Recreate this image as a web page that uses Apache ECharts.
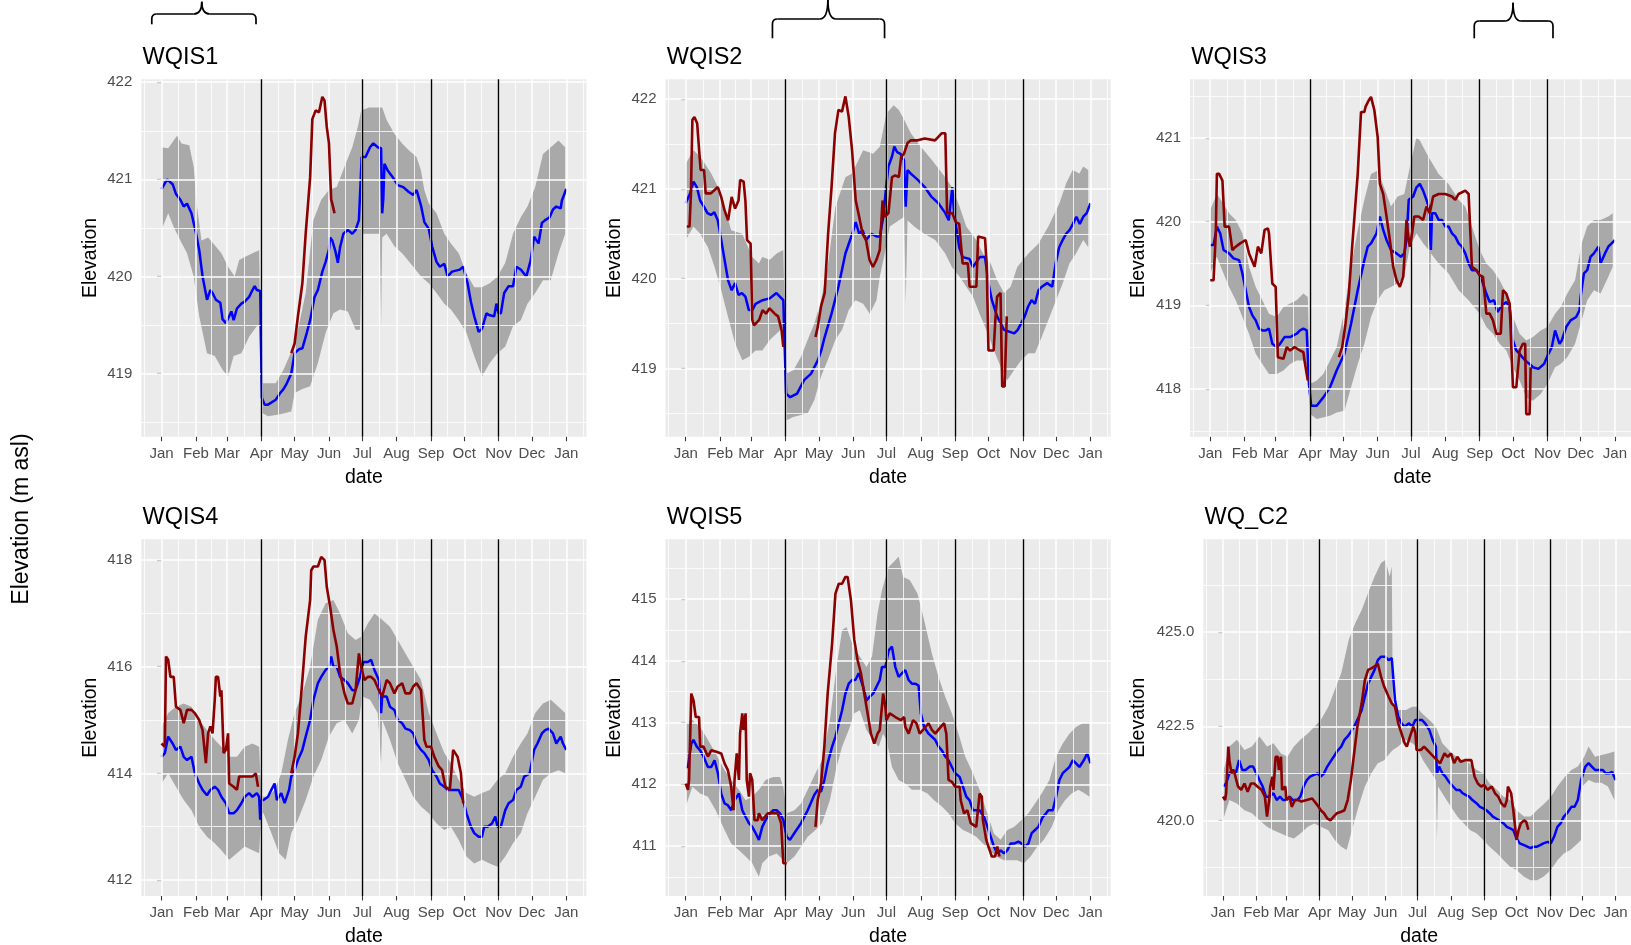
<!DOCTYPE html>
<html><head><meta charset="utf-8">
<script src="https://cdn.jsdelivr.net/npm/echarts@6/dist/echarts.min.js"></script>
<style>html,body{margin:0;padding:0;background:#fff}#c{width:1631px;height:945px}</style>
</head><body><div id="c"></div>
<script>
// ---------- axis breaks / labels ----------
const monthStarts = [0,31,59,90,120,151,181,212,243,273,304,334,365];
const monthLabels = ['Jan','Feb','Mar','Apr','May','Jun','Jul','Aug','Sep','Oct','Nov','Dec','Jan'];
const monthMids = [-15.5,15.5,45,74.5,105,135.5,166,196.5,227.5,258,288.5,319,349.5,380.5];
const seasonLines = [90,181,243,304];
const panelNames = ['WQIS1','WQIS2','WQIS3','WQIS4','WQIS5','WQ_C2'];
const yMajor1 = [419,420,421,422], yMinor1 = [418.5,419.5,420.5,421.5];
const yMajor2 = [419,420,421,422], yMinor2 = [418.5,419.5,420.5,421.5];
const yMajor3 = [418,419,420,421], yMinor3 = [417.5,418.5,419.5,420.5,421.5];
const yMajor4 = [412,414,416,418], yMinor4 = [413,415,417];
const yMajor5 = [411,412,413,414,415], yMinor5 = [410.5,411.5,412.5,413.5,414.5,415.5];
const yMajor6 = [420,422.5,425], yMinor6 = [418.75,421.25,423.75,426.25];

// ---------- WQIS1 ----------
const rib1Hi = [[0,421.33],[6,421.32],[14,421.45],[18,421.37],[25,421.35],[29,421.13],[32,420.72],[36,420.37],[42,420.40],[48,420.32],[54,420.24],[60,420.10],[66,420.00],[70,420.17],[75,420.20],[82,420.24],[88,420.27],[90,418.90],[103,418.90],[110,419.04],[118,419.25],[123,419.45],[130,419.83],[137,420.58],[144,420.79],[151,420.89],[158,420.92],[165,421.13],[172,421.33],[177,421.54],[180,421.71],[187,421.74],[194,421.74],[199,421.74],[203,421.61],[210,421.47],[217,421.37],[223,421.30],[230,421.23],[234,421.09],[237,420.89],[241,420.75],[248,420.65],[255,420.44],[261,420.34],[268,420.24],[275,420.03],[282,419.89],[289,419.89],[296,419.93],[303,420.00],[310,420.14],[317,420.44],[324,420.61],[330,420.72],[337,420.92],[344,421.26],[351,421.33],[358,421.40],[364,421.33]];
const rib1Lo = [[0,420.48],[6,420.65],[11,420.51],[17,420.37],[23,420.24],[29,420.00],[34,419.59],[41,419.21],[48,419.18],[55,419.04],[60,418.97],[65,419.18],[72,419.21],[79,419.38],[86,419.49],[88,419.50],[90,418.60],[96,418.56],[107,418.58],[117,418.61],[120,418.80],[127,418.84],[134,418.87],[141,419.11],[148,419.42],[155,419.62],[161,419.66],[168,419.64],[175,419.45],[179,419.45],[181,420.44],[188,420.44],[197,420.44],[198,419.49],[199,420.40],[203,420.44],[210,420.31],[217,420.24],[227,420.10],[234,420.00],[241,419.93],[248,419.83],[255,419.72],[261,419.66],[268,419.55],[275,419.42],[282,419.18],[289,418.97],[296,419.11],[303,419.21],[310,419.28],[317,419.49],[324,419.55],[330,419.72],[337,419.83],[344,419.96],[351,419.96],[358,420.24],[364,420.44]];
const blue1 = [[0,420.90],[5,421.00],[10,420.95],[13,420.85],[17,420.79],[20,420.72],[23,420.75],[27,420.65],[31,420.45],[34,420.27],[37,420.00],[41,419.76],[44,419.86],[46,419.83],[49,419.76],[53,419.73],[55,419.56],[58,419.52],[61,419.59],[63,419.64],[65,419.55],[68,419.67],[72,419.72],[75,419.74],[79,419.79],[82,419.86],[84,419.90],[86,419.86],[89,419.85],[90.5,418.75],[93,418.68],[96,418.68],[103,418.73],[107,418.80],[110,418.84],[113,418.90],[117,419.00],[120,419.21],[124,419.25],[127,419.26],[131,419.42],[134,419.55],[138,419.79],[141,419.86],[145,420.05],[148,420.15],[151,420.28],[152,420.40],[154,420.37],[157,420.25],[159,420.14],[161,420.30],[164,420.44],[168,420.48],[172,420.44],[175,420.48],[178,420.58],[180.5,421.23],[184,421.23],[188,421.33],[191,421.37],[195,421.33],[198,421.32],[199,420.65],[200,420.80],[201,421.16],[204,421.09],[208,421.03],[213,420.94],[218,420.92],[223,420.87],[227,420.84],[230,420.89],[234,420.73],[237,420.56],[241,420.49],[244,420.31],[248,420.15],[251,420.10],[255,420.13],[258,420.00],[262,420.05],[269,420.07],[272,420.10],[276,419.93],[279,419.74],[282,419.59],[286,419.43],[289,419.46],[293,419.62],[296,419.60],[300,419.59],[302,419.72],[304,419.62],[306,419.62],[309,419.83],[313,419.90],[317,419.90],[320,420.10],[324,420.07],[329,420.00],[333,420.17],[336,420.41],[340,420.34],[343,420.55],[346,420.58],[350,420.61],[353,420.69],[356,420.72],[360,420.70],[361,420.78],[365,420.90]];
const red1 = [[117,419.21],[120,419.31],[123,419.59],[127,419.93],[130,420.44],[134,421.02],[136,421.62],[139,421.71],[142,421.69],[145,421.85],[147,421.81],[149,421.54],[151,421.37],[153,420.79],[154,420.75],[156,420.65]];

// ---------- WQIS2 ----------
const rib2Hi = [[0,421.28],[7,421.43],[13,421.36],[23,421.17],[29,421.02],[35,420.80],[41,420.54],[51,420.50],[60,420.24],[66,420.17],[69,420.24],[76,420.21],[82,420.28],[88,420.32],[90.5,418.94],[97,418.98],[104,419.13],[110,419.32],[116,419.50],[122,419.76],[128,420.13],[135,420.80],[141,421.02],[144,421.13],[150,421.17],[160,421.43],[169,421.39],[175,421.47],[181,421.84],[187.5,421.93],[192,421.88],[197,421.77],[203,421.62],[212,421.47],[222,421.32],[234,421.13],[240,421.02],[247,420.80],[253,420.58],[262,420.43],[268,420.28],[275,420.17],[281,419.98],[287,419.84],[293,419.91],[299,420.13],[309,420.28],[318,420.39],[327,420.58],[337,420.84],[343,421.06],[349,421.21],[355,421.17],[358.5,421.25],[363,421.21]];
const rib2Lo = [[0,420.43],[7,420.58],[13,420.50],[20,420.35],[26,420.13],[32,419.87],[38,419.58],[44.5,419.28],[51,419.09],[57,419.13],[63,419.20],[69,419.20],[76,419.32],[82,419.39],[88,419.46],[90.5,418.42],[97,418.46],[110,418.50],[116,418.65],[122,418.91],[128,419.09],[135,419.32],[141,419.43],[147,419.65],[153,419.76],[160,419.72],[166,419.61],[172,419.76],[175,420.02],[179.5,420.28],[184,420.58],[197,420.69],[198.4,419.72],[200,420.65],[206,420.58],[215,420.50],[225,420.43],[234,420.28],[240,420.13],[247,420.02],[253,419.91],[259,419.80],[265,419.61],[271,419.43],[278,419.20],[284,419.02],[290,418.87],[296,418.98],[302.5,419.09],[309,419.17],[315,419.17],[321,419.35],[327,419.54],[334,419.76],[340,419.95],[346,420.17],[352,420.28],[358.5,420.43],[363,420.35]];
const blue2 = [[0,420.84],[4,420.95],[7,421.08],[10,421.02],[13,420.87],[16.5,420.80],[19.6,420.73],[22.7,420.71],[25.8,420.74],[28.9,420.65],[32,420.43],[35,420.21],[38.2,419.98],[41.4,419.87],[44.5,419.95],[47.6,419.82],[50.7,419.84],[53.8,419.80],[56.9,419.65],[60,419.65],[63,419.72],[69.3,419.76],[75.6,419.78],[81.8,419.84],[84.9,419.80],[88,419.76],[90.5,418.72],[94.2,418.68],[100.4,418.72],[106.7,418.87],[112.9,418.94],[119.1,419.09],[122.2,419.20],[125.3,419.35],[131.5,419.61],[137.7,419.91],[144,420.28],[150.2,420.50],[153.3,420.63],[156.4,420.50],[159.5,420.54],[162.6,420.43],[167.3,420.50],[172,420.47],[175,420.47],[178.2,420.69],[180.7,421.02],[182.8,421.25],[186,421.36],[188.1,421.47],[190.6,421.41],[193.7,421.39],[196.8,421.32],[198.4,420.80],[200,421.21],[203,421.17],[209.3,421.10],[215.5,421.02],[221.7,420.91],[227.9,420.84],[234.1,420.73],[237.2,420.65],[240.4,421.02],[242,420.73],[243.5,420.61],[246.6,420.35],[249.7,420.24],[255.9,420.22],[259,420.13],[265.2,420.24],[269.9,420.24],[273,419.95],[276.1,419.76],[280.8,419.58],[287,419.43],[291.7,419.41],[296.3,419.39],[299.4,419.43],[305.7,419.58],[308.8,419.69],[311.9,419.76],[315,419.72],[318.1,419.87],[321.2,419.91],[325.9,419.95],[330.5,419.91],[333.6,420.17],[336.8,420.35],[339.9,420.43],[343,420.50],[346.1,420.54],[349.2,420.61],[352.3,420.69],[355.4,420.61],[358.5,420.69],[361.6,420.73],[365,420.84]];
const red2 = [[1,420.58],[3.4,420.58],[4.7,420.95],[6,421.77],[7.8,421.80],[10.3,421.73],[11.8,421.75],[13.4,421.21],[16.5,421.21],[18,420.95],[22.7,420.95],[28.9,421.02],[32,420.91],[35,420.76],[38.2,420.65],[41.4,420.91],[44.5,420.78],[47.6,420.87],[49.1,421.10],[52.2,421.08],[53.8,420.87],[55.3,420.43],[58.5,420.39],[60,419.54],[61.6,419.48],[66.2,419.54],[69.3,419.65],[72.4,419.61],[75.6,419.67],[80.2,419.61],[83.3,419.58],[86.4,419.43],[88,419.24],null,[117,419.35],[119,419.46],[122,419.69],[125.3,419.84],[128.4,420.50],[131.5,421.02],[134.6,421.62],[137.7,421.88],[140.9,421.86],[144,422.03],[147,421.80],[150,421.43],[153.3,420.87],[156.4,420.69],[159.5,420.50],[162.6,420.43],[165.7,420.21],[168.8,420.13],[172,420.21],[175,420.32],[177.5,420.87],[179.7,420.69],[182.8,420.73],[186,421.13],[189,421.15],[192.2,421.13],[194.3,421.36],[196.8,421.39],[200,421.51],[203,421.54],[209.3,421.54],[215.5,421.56],[224.8,421.54],[231,421.62],[234.1,421.62],[235.7,420.73],[240.4,420.73],[243.5,420.63],[246.6,420.61],[249.7,420.17],[254.4,420.17],[256,419.91],[262.1,419.91],[263.7,420.47],[269.9,420.45],[271.5,420.13],[273,419.20],[277.7,419.20],[279.2,419.54],[280.8,419.80],[283.9,419.84],[285.4,418.80],[287.6,418.80],[289.5,419.58]];

// ---------- WQIS3 ----------
const rib3Hi = [[0,420.14],[6,420.33],[12,420.21],[17,420.10],[23,420.02],[29,419.86],[35,419.46],[41,419.22],[47,419.06],[53,418.90],[60,418.86],[66,418.98],[72,419.02],[78,419.06],[84,419.14],[88,419.10],[90,418.06],[96,418.10],[102,418.18],[108,418.34],[114,418.50],[121,418.94],[127,419.46],[133,419.90],[139,420.26],[145,420.57],[151,420.61],[157,420.40],[163,420.18],[169,420.30],[175,420.33],[180,420.65],[186,421.01],[189,420.97],[197,420.77],[206,420.57],[215,420.45],[224,420.26],[230,420.18],[236,419.94],[243,419.66],[249,419.50],[255,419.42],[261,419.30],[267,419.14],[273,418.86],[279,418.66],[285,418.58],[291,418.62],[298,418.70],[304,418.74],[311,418.90],[316,418.98],[322,419.14],[329,419.30],[335,419.74],[340,419.94],[346,420.02],[352,420.02],[359,420.06],[363,420.10]];
const rib3Lo = [[0,419.38],[6,419.58],[12,419.38],[17,419.22],[23,419.06],[29,418.86],[35,418.66],[41,418.42],[47,418.30],[53,418.18],[60,418.18],[66,418.22],[72,418.30],[78,418.34],[84,418.34],[88,418.26],[90,417.70],[96,417.64],[108,417.68],[114,417.72],[121,417.74],[127,418.02],[133,418.30],[139,418.54],[145,418.86],[151,419.06],[157,419.18],[163,419.22],[169,419.26],[175,419.34],[180,419.70],[186,419.86],[192,419.74],[197,419.66],[198,418.62],[199,419.62],[206,419.50],[215,419.38],[224,419.18],[233,419.06],[243,418.90],[249,418.74],[255,418.66],[261,418.54],[267,418.46],[273,418.26],[279,418.10],[285,417.90],[291,417.86],[298,417.94],[304,418.06],[311,418.26],[316,418.30],[322,418.38],[329,418.54],[335,418.82],[340,419.06],[346,419.18],[352,419.14],[359,419.34],[363,419.46]];
const blue3 = [[0,419.72],[3,419.72],[6,419.94],[9,419.86],[12,419.66],[17,419.62],[21,419.56],[26,419.54],[29,419.38],[32,419.18],[35,418.98],[38,418.88],[41,418.82],[44,418.72],[47,418.70],[50,418.70],[53,418.72],[56,418.54],[60,418.50],[63,418.54],[67,418.62],[72,418.62],[75,418.64],[78,418.66],[81,418.70],[84,418.72],[87,418.70],[89,418.06],[91,417.80],[96,417.80],[102,417.90],[108,418.02],[114,418.22],[121,418.42],[127,418.78],[133,419.18],[139,419.54],[142,419.70],[145,419.74],[150,419.86],[153,420.06],[156,419.90],[159,419.78],[163,419.66],[168,419.62],[172,419.58],[175,419.62],[177,419.78],[179,420.26],[183,420.30],[186,420.41],[189,420.45],[192,420.37],[195,420.26],[197,420.18],[199,419.66],[200,420.10],[203,420.10],[206,420.02],[209,420.02],[212,419.94],[215,419.94],[218,419.86],[221,419.82],[224,419.74],[227,419.70],[230,419.62],[233,419.50],[236,419.42],[240,419.42],[244,419.34],[249,419.14],[252,419.04],[256,419.06],[259,418.92],[262,418.98],[267,419.04],[270,418.98],[273,418.58],[276,418.46],[279,418.42],[284,418.34],[288,418.30],[291,418.26],[296,418.24],[301,418.30],[305,418.42],[308,418.50],[311,418.70],[315,418.54],[317,418.58],[321,418.74],[325,418.82],[330,418.86],[333,418.94],[334,419.10],[337,419.38],[340,419.42],[343,419.58],[346,419.62],[350,419.70],[352,419.50],[356,419.62],[359,419.70],[362,419.74],[365,419.78]];
const red3 = [[0,419.30],[3,419.30],[5,419.86],[6,420.57],[8,420.57],[11,420.49],[13,419.94],[17,419.94],[20,419.66],[23,419.70],[27,419.74],[32,419.78],[35,419.62],[40,419.46],[43,419.70],[46,419.62],[49,419.90],[52,419.92],[53,419.86],[56,419.26],[59,419.22],[61,418.38],[66,418.36],[69,418.50],[72,418.46],[76,418.50],[81,418.46],[84,418.44],[85,418.34],[88,418.10],null,[116,418.38],[119,418.50],[122,418.78],[125,419.14],[128,419.70],[133,420.57],[136,421.31],[139,421.31],[140,421.37],[143,421.45],[145,421.49],[148,421.33],[151,421.01],[153,420.45],[156,420.33],[159,420.06],[162,419.78],[165,419.46],[168,419.30],[171,419.22],[174,419.34],[175,419.54],[177,420.02],[179,419.78],[180,419.70],[182,419.86],[184,420.06],[188,420.06],[192,420.02],[195,420.18],[198,420.10],[201,420.30],[206,420.33],[212,420.33],[218,420.30],[221,420.26],[224,420.33],[230,420.37],[233,420.33],[236,419.46],[240,419.42],[243,419.36],[246,419.34],[249,418.90],[252,418.90],[255,418.82],[258,418.66],[262,418.66],[264,419.18],[267,419.14],[270,419.02],[273,418.02],[276,418.02],[279,418.46],[282,418.54],[284,418.54],[285,417.70],[288,417.70],[289,418.26]];

// ---------- WQIS4 ----------
const rib4Hi = [[0,414.88],[6,415.13],[13,415.25],[20,415.31],[27,415.25],[34,415.00],[41,414.81],[48,414.63],[54,414.50],[61,414.31],[68,414.31],[75,414.50],[82,414.56],[88,414.50],[90,413.56],[96,413.56],[102,413.69],[108,414.00],[114,414.63],[120,415.13],[127,415.50],[134,416.00],[141,416.88],[148,417.19],[155,417.25],[161,417.00],[168,416.63],[175,416.50],[180,416.56],[186,416.81],[192,417.00],[199,416.88],[206,416.75],[213,416.50],[220,416.25],[227,416.00],[234,415.75],[241,415.13],[248,414.75],[255,414.38],[261,414.19],[268,413.88],[275,413.63],[282,413.56],[289,413.63],[296,413.69],[303,413.88],[310,414.00],[317,414.31],[324,414.56],[330,414.75],[337,415.13],[344,415.31],[351,415.38],[358,415.25],[364,415.13]];
const rib4Lo = [[0,413.81],[6,414.00],[13,413.75],[20,413.50],[27,413.31],[34,413.00],[41,412.81],[48,412.69],[54,412.56],[61,412.38],[68,412.50],[75,412.63],[82,412.56],[88,412.50],[90,413.25],[92,413.25],[99,412.88],[106,412.50],[112,412.38],[117,412.88],[123,413.13],[130,413.50],[137,413.94],[144,414.25],[151,414.69],[158,414.94],[165,415.00],[172,414.75],[178,415.00],[181,415.44],[188,415.38],[195,415.13],[198,414.19],[199,415.00],[206,414.63],[213,414.19],[220,413.88],[227,413.56],[234,413.38],[241,413.25],[248,413.06],[255,412.94],[261,413.00],[268,412.75],[275,412.44],[282,412.31],[289,412.38],[296,412.31],[303,412.25],[310,412.44],[317,412.69],[324,412.88],[330,413.25],[337,413.56],[344,413.88],[351,414.00],[358,414.06],[364,414.00]];
const blue4 = [[0,414.31],[3,414.38],[6,414.69],[10,414.56],[13,414.44],[17,414.50],[20,414.31],[23,414.25],[27,414.31],[30,414.00],[34,413.81],[37,413.69],[41,413.59],[44,413.69],[48,413.75],[51,413.69],[54,413.56],[58,413.44],[61,413.25],[65,413.25],[68,413.31],[72,413.44],[75,413.56],[79,413.63],[82,413.56],[86,413.63],[88,413.56],[89,413.13],[90,413.50],[92,413.50],[96,413.56],[99,413.69],[102,413.81],[104,413.50],[108,413.63],[111,413.44],[115,413.69],[117,413.94],[120,414.06],[123,414.25],[127,414.44],[130,414.69],[134,415.00],[137,415.38],[141,415.69],[144,415.81],[148,415.94],[151,416.00],[153,416.19],[155,416.00],[158,416.00],[161,415.81],[165,415.75],[168,415.69],[172,415.56],[175,415.56],[179,415.81],[182,416.09],[186,416.09],[189,416.13],[192,415.94],[196,415.75],[198,415.13],[199,415.44],[203,415.44],[206,415.25],[210,415.19],[213,415.00],[217,414.94],[220,414.84],[224,414.81],[227,414.75],[230,414.56],[234,414.44],[237,414.38],[241,414.25],[244,414.06],[248,413.94],[251,413.81],[255,413.75],[258,413.69],[261,413.69],[268,413.69],[272,413.50],[275,413.25],[279,413.00],[282,412.88],[286,412.81],[289,412.81],[291,413.00],[294,413.00],[298,413.06],[301,413.19],[303,413.00],[306,413.00],[310,413.31],[313,413.44],[317,413.50],[320,413.69],[324,413.75],[327,413.94],[332,414.00],[336,414.44],[339,414.56],[343,414.75],[346,414.81],[349,414.84],[353,414.75],[356,414.56],[360,414.69],[362,414.56],[365,414.44]];
const red4 = [[0,414.56],[3,414.50],[4,416.19],[6,416.13],[8,415.81],[11,415.81],[13,415.25],[17,415.19],[20,414.94],[23,415.19],[27,415.19],[30,415.13],[34,415.00],[37,414.81],[40,414.19],[42,414.75],[44,414.88],[46,414.75],[48,415.38],[49,415.81],[51,415.81],[53,415.44],[54,415.56],[56,414.38],[58,414.44],[60,414.75],[61,413.81],[65,413.75],[68,413.69],[70,413.94],[75,413.94],[82,413.94],[85,414.00],[87,413.75],null,[117,414.00],[120,414.31],[123,414.75],[127,415.75],[130,416.56],[134,417.25],[135,417.81],[137,417.88],[141,417.88],[144,418.06],[147,418.00],[149,417.50],[152,417.13],[155,416.69],[158,416.38],[161,415.88],[165,415.50],[168,415.31],[172,415.31],[175,415.56],[178,416.25],[180,416.00],[183,415.75],[186,415.81],[189,415.81],[192,415.75],[196,415.56],[199,415.44],[203,415.75],[206,415.69],[210,415.50],[213,415.63],[217,415.69],[220,415.50],[224,415.50],[227,415.63],[230,415.69],[234,415.56],[237,414.63],[239,414.50],[243,414.50],[246,414.31],[250,414.13],[253,414.06],[256,413.75],[260,413.69],[263,414.44],[267,414.31],[270,414.00],[272,413.44]];

// ---------- WQIS5 ----------
const rib5Hi = [[0,412.99],[6,413.04],[13,412.93],[20,412.72],[27,412.50],[35,412.23],[41,412.07],[48,411.91],[54,411.74],[60,411.80],[66,411.91],[72,412.07],[79,412.12],[85,412.12],[88,411.96],[91,411.53],[98,411.58],[104,411.69],[110,411.91],[117,412.18],[123,412.39],[130,413.04],[136,413.90],[141,414.50],[145,414.55],[151,414.23],[157,414.07],[163,413.90],[168,414.07],[173,414.77],[177,415.15],[183,415.52],[189,415.63],[192,415.69],[196,415.36],[202,415.31],[209,415.09],[215,414.66],[222,414.12],[228,413.74],[234,413.42],[240,413.15],[246,412.82],[252,412.45],[259,412.18],[265,411.91],[271,411.58],[278,411.20],[284,411.10],[290,411.26],[296,411.31],[303,411.42],[309,411.53],[315,411.69],[321,411.85],[328,412.07],[334,412.45],[340,412.66],[346,412.82],[352,412.93],[358,412.99],[364,412.99]];
const rib5Lo = [[0,411.64],[6,411.96],[13,411.85],[20,411.80],[27,411.58],[35,411.26],[41,411.04],[48,410.93],[54,410.83],[60,410.72],[66,410.50],[69,410.72],[75,410.83],[82,410.88],[88,410.77],[91,410.72],[98,410.83],[104,410.99],[110,411.15],[117,411.26],[123,411.37],[130,411.74],[136,412.28],[141,412.61],[147,412.88],[152,413.15],[157,413.20],[163,412.88],[169,412.72],[174,412.61],[178,412.82],[181,412.72],[186,412.28],[192,412.07],[198,412.01],[204,411.91],[211,411.91],[218,411.85],[224,411.74],[231,411.64],[237,411.53],[243,411.37],[250,411.26],[256,411.21],[262,411.15],[268,411.04],[274,410.93],[280,410.83],[287,410.77],[293,410.77],[299,410.77],[305,410.72],[311,410.83],[317,410.99],[323,411.10],[330,411.31],[336,411.58],[342,411.74],[348,411.85],[354,411.91],[360,411.85],[364,411.80]];
const blue5 = [[0,412.28],[2,412.28],[5,412.66],[7,412.72],[10,412.61],[13,412.55],[16,412.45],[20,412.28],[23,412.28],[26,412.39],[29,412.18],[32,411.85],[35,411.69],[38,411.66],[41,411.58],[44,411.74],[48,411.85],[51,411.58],[54,411.47],[57,411.37],[60,411.31],[63,411.21],[66,411.10],[69,411.31],[72,411.42],[76,411.53],[79,411.58],[82,411.58],[85,411.53],[88,411.42],[91,411.15],[94,411.10],[98,411.21],[104,411.37],[110,411.58],[116,411.83],[119,411.91],[122,411.88],[125,412.07],[128,412.34],[132,412.61],[135,412.77],[141,413.20],[144,413.47],[147,413.63],[150,413.69],[153,413.69],[156,413.80],[160,413.58],[163,413.36],[166,413.42],[169,413.47],[172,413.58],[175,413.69],[177,413.90],[180,413.90],[183,414.17],[186,414.23],[187,414.12],[189,413.90],[192,413.74],[195,413.80],[198,413.85],[201,413.69],[204,413.63],[207,413.63],[210,413.60],[212,413.15],[215,412.93],[219,412.82],[222,412.77],[225,412.72],[228,412.61],[231,412.55],[234,412.45],[237,412.39],[240,412.28],[243,412.18],[247,412.12],[250,411.96],[253,411.80],[256,411.74],[259,411.58],[262,411.58],[265,411.58],[269,411.47],[271,411.37],[274,411.21],[278,410.99],[281,410.88],[284,410.93],[287,410.88],[290,410.93],[293,411.04],[296,411.04],[300,411.07],[303,411.04],[306,410.99],[309,411.04],[312,411.21],[315,411.26],[318,411.31],[322,411.47],[325,411.53],[327,411.58],[331,411.58],[334,411.80],[337,412.07],[340,412.18],[343,412.23],[346,412.28],[349,412.39],[352,412.34],[355,412.28],[359,412.39],[362,412.50],[365,412.34]];
const red5 = [[0,412.01],[2,411.91],[3,412.07],[5,413.47],[7,413.36],[9,413.09],[12,413.09],[13,412.61],[16,412.61],[20,412.45],[23,412.55],[27,412.53],[32,412.50],[35,412.34],[38,412.23],[41,411.96],[43,411.58],[44,412.07],[46,412.50],[48,412.07],[49,412.82],[51,413.15],[52,412.88],[54,413.15],[55,412.07],[57,411.80],[58,412.18],[60,412.07],[62,411.42],[65,411.42],[66,411.53],[69,411.42],[74,411.53],[79,411.53],[83,411.53],[86,411.37],[88,410.72],[91,410.72],null,[117,411.31],[119,411.74],[122,412.01],[125,412.61],[128,413.47],[132,414.28],[135,415.09],[138,415.25],[141,415.25],[144,415.36],[146,415.36],[149,414.98],[152,414.34],[155,414.01],[158,413.80],[161,413.47],[164,413.15],[167,412.82],[170,412.66],[173,412.82],[175,412.88],[178,413.47],[180,413.26],[181,413.04],[184,413.15],[189,413.09],[194,413.04],[197,413.09],[198,412.93],[201,412.82],[205,413.04],[208,412.99],[211,412.82],[214,412.88],[219,412.99],[222,412.88],[225,412.82],[230,412.93],[233,412.99],[235,412.82],[237,412.07],[240,412.04],[243,411.96],[247,411.96],[248,411.74],[251,411.53],[254,411.58],[257,411.37],[262,411.31],[265,411.85],[267,411.80],[268,411.42],[271,411.10],[276,410.83],[279,410.83],[281,410.99],[283,410.83]];

// ---------- WQ_C2 ----------
const rib6Hi = [[0,421.25],[6,421.96],[13,422.14],[20,421.87],[27,421.96],[34,422.23],[41,421.96],[47,422.05],[54,421.78],[60,421.69],[66,421.96],[72,422.14],[79,422.31],[85,422.49],[91,422.67],[98,423.02],[104,423.47],[110,423.91],[117,424.80],[123,425.24],[129,425.59],[135,426.04],[141,426.48],[147,426.84],[151,426.92],[155,426.48],[157,426.75],[158,423.02],[163,422.93],[170,422.93],[176,423.02],[180,423.02],[185,422.85],[192,422.67],[198,422.49],[204,422.05],[210,421.87],[217,421.69],[223,421.60],[229,421.52],[236,421.34],[242,421.25],[248,420.98],[255,420.81],[261,420.63],[267,420.54],[273,420.27],[280,420.10],[286,420.10],[292,420.27],[299,420.45],[305,420.63],[311,420.90],[318,421.16],[324,421.34],[330,421.43],[336,421.69],[340,421.96],[346,421.69],[352,421.74],[358,421.78],[364,421.83]];
const rib6Lo = [[0,420.00],[6,420.54],[13,420.45],[20,420.27],[27,420.19],[34,420.00],[41,419.83],[47,419.74],[54,419.65],[60,419.57],[66,419.52],[72,419.65],[79,419.83],[85,419.92],[91,419.83],[98,419.74],[104,419.48],[110,419.30],[115,419.21],[120,419.74],[126,420.36],[132,420.90],[138,421.25],[144,421.52],[150,421.60],[155,421.78],[158,421.87],[163,421.96],[170,422.14],[176,422.05],[180,421.96],[186,421.60],[192,421.34],[198,421.07],[199,419.48],[200,420.90],[206,420.63],[212,420.36],[218,420.10],[224,419.92],[230,419.74],[236,419.65],[242,419.48],[248,419.30],[255,419.12],[261,418.94],[267,418.77],[273,418.68],[280,418.50],[286,418.41],[292,418.41],[298,418.50],[305,418.68],[311,418.94],[317,419.12],[323,419.21],[330,419.39],[333,419.48],[334,420.90],[340,421.07],[346,421.00],[352,421.00],[358,420.90],[364,420.54]];
const blue6 = [[0,420.90],[3,420.98],[6,421.25],[9,421.34],[12,421.25],[15,421.60],[18,421.34],[21,421.34],[25,421.43],[28,421.43],[31,421.25],[34,421.07],[37,420.90],[40,420.63],[43,420.63],[47,420.72],[50,420.54],[53,420.63],[56,420.54],[59,420.54],[62,420.63],[65,420.54],[69,420.54],[72,420.63],[75,420.90],[78,421.07],[81,421.16],[84,421.20],[88,421.25],[91,421.16],[94,421.25],[97,421.43],[100,421.56],[103,421.69],[106,421.83],[110,421.96],[113,422.14],[116,422.23],[119,422.36],[122,422.49],[125,422.67],[129,422.93],[132,423.29],[135,423.64],[138,423.82],[141,424.00],[144,424.26],[147,424.35],[151,424.35],[154,424.26],[157,424.31],[158,424.26],[160,423.20],[163,422.76],[166,422.58],[169,422.49],[173,422.58],[176,422.49],[179,422.67],[182,422.67],[185,422.67],[188,422.58],[192,422.40],[195,422.14],[198,421.96],[199,421.25],[201,421.43],[204,421.25],[207,421.16],[210,421.03],[214,420.90],[217,420.81],[220,420.81],[223,420.72],[226,420.67],[229,420.63],[232,420.54],[236,420.45],[239,420.36],[242,420.32],[245,420.27],[248,420.19],[251,420.10],[254,420.05],[257,420.00],[261,419.92],[264,419.83],[267,419.79],[270,419.74],[273,419.52],[276,419.39],[280,419.34],[283,419.30],[286,419.26],[289,419.30],[292,419.30],[295,419.34],[298,419.39],[302,419.43],[305,419.39],[308,419.57],[311,419.83],[314,419.92],[317,420.10],[320,420.19],[324,420.36],[327,420.36],[330,420.54],[333,421.07],[337,421.43],[340,421.52],[343,421.43],[346,421.34],[350,421.34],[353,421.34],[356,421.25],[359,421.25],[362,421.29],[365,421.07]];
const red6 = [[0,420.63],[2,420.54],[3,420.72],[5,421.96],[6,421.60],[8,421.25],[10,421.34],[14,420.90],[17,420.81],[20,420.98],[23,420.76],[26,420.98],[29,420.98],[32,420.90],[36,420.81],[39,420.63],[41,420.10],[43,420.54],[44,420.90],[46,421.16],[47,420.81],[49,421.69],[51,421.69],[52,421.34],[54,421.69],[55,420.81],[58,420.90],[59,420.54],[62,420.63],[64,420.36],[67,420.54],[70,420.54],[73,420.50],[78,420.54],[83,420.58],[88,420.40],[91,420.27],[94,420.19],[97,420.05],[100,420.00],[103,420.10],[106,420.19],[110,420.23],[113,420.27],[116,420.54],[119,421.07],[122,421.78],[125,422.49],[129,423.11],[132,423.73],[135,424.00],[138,424.04],[141,424.09],[144,424.17],[147,423.82],[150,423.55],[154,423.29],[157,423.11],[160,423.02],[163,422.58],[166,422.32],[169,422.05],[171,421.96],[174,422.23],[177,422.49],[179,422.32],[180,421.87],[184,421.87],[187,421.96],[190,421.87],[193,421.78],[196,421.69],[199,421.60],[202,421.52],[206,421.78],[209,421.69],[212,421.78],[215,421.52],[218,421.69],[221,421.56],[225,421.60],[228,421.60],[231,421.60],[234,421.16],[237,420.98],[240,420.90],[243,420.94],[246,420.81],[250,420.90],[253,420.72],[256,420.63],[259,420.45],[262,420.36],[264,420.54],[265,420.90],[268,420.72],[270,420.27],[273,419.48],[275,419.75],[277,419.92],[280,420.00],[282,419.96],[284,419.75]];

// ---------- layout (positions / sizes / styles) ----------
const FONT = '"Liberation Sans", Arial, sans-serif';
const layout = [
  {left:141.3, top:79.3, width:445.2, height:357.4, yMin:418.35, yMax:422.03, nameGap:41, dec:0},
  {left:665.5, top:79.3, width:445.2, height:357.4, yMin:418.24, yMax:422.22, nameGap:41, dec:0},
  {left:1190,  top:79.3, width:445.2, height:357.4, yMin:417.43, yMax:421.70, nameGap:41, dec:0},
  {left:141.3, top:539.3,width:445.2, height:356.7, yMin:411.70, yMax:418.39, nameGap:41, dec:0},
  {left:665.5, top:539.3,width:445.2, height:356.7, yMin:410.19, yMax:415.97, nameGap:41, dec:0},
  {left:1203.3,top:539.3,width:431.8, height:356.7, yMin:417.99, yMax:427.47, nameGap:54.5, dec:1}
];
const braces = [
  {panel:0, from:-8.8, to:85.2, tip:36.3, yb:24.3, yh:14, yt:1.7},
  {panel:1, from:78.2, to:179.3, tip:128.2, yb:38.3, yh:19, yt:-1},
  {panel:2, from:238.1, to:309.1, tip:273.1, yb:38.3, yh:21, yt:2.7}
];

const panels = [
  {hi:rib1Hi, lo:rib1Lo, blue:blue1, red:red1, yMajor:yMajor1, yMinor:yMinor1},
  {hi:rib2Hi, lo:rib2Lo, blue:blue2, red:red2, yMajor:yMajor2, yMinor:yMinor2},
  {hi:rib3Hi, lo:rib3Lo, blue:blue3, red:red3, yMajor:yMajor3, yMinor:yMinor3},
  {hi:rib4Hi, lo:rib4Lo, blue:blue4, red:red4, yMajor:yMajor4, yMinor:yMinor4},
  {hi:rib5Hi, lo:rib5Lo, blue:blue5, red:red5, yMajor:yMajor5, yMinor:yMinor5},
  {hi:rib6Hi, lo:rib6Lo, blue:blue6, red:red6, yMajor:yMajor6, yMinor:yMinor6}
];

const grids = [], xAxes = [], yAxes = [], series = [], graphics = [];
const MAJ = 1.5, MIN = 0.8;
panels.forEach((p, i) => {
  const L = layout[i];
  grids.push({left:L.left, top:L.top, width:L.width, height:L.height, show:true,
    backgroundColor:'#EBEBEB', borderWidth:0, containLabel:false, outerBoundsMode:'none'});
  xAxes.push({type:'value', gridIndex:i, min:-18.25, max:383.25,
    axisLine:{show:false}, splitLine:{show:false},
    axisTick:{show:true, customValues:monthStarts, length:4.5, lineStyle:{color:'#333', width:1.1}},
    axisLabel:{customValues:monthStarts, color:'#4D4D4D', fontSize:15, fontFamily:FONT, margin:9.5,
      formatter:v => monthLabels[monthStarts.indexOf(v)]},
    name:'date', nameLocation:'middle', nameGap:30.5,
    nameTextStyle:{color:'#000', fontSize:19.5, fontFamily:FONT}});
  yAxes.push({type:'value', gridIndex:i, min:L.yMin, max:L.yMax,
    axisLine:{show:false}, splitLine:{show:false},
    axisTick:{show:true, customValues:p.yMajor, length:4.5, lineStyle:{color:'#333', width:1.1}},
    axisLabel:{customValues:p.yMajor, color:'#4D4D4D', fontSize:15, fontFamily:FONT, margin:9,
      formatter:v => v.toFixed(L.dec)},
    name:'Elevation', nameLocation:'middle', nameGap:L.nameGap,
    nameTextStyle:{color:'#000', fontSize:19.5, fontFamily:FONT}});
  const gl = [];
  p.yMajor.forEach(v => gl.push({yAxis:v, lineStyle:{color:'#fff', width:MAJ, type:'solid'}}));
  p.yMinor.forEach(v => gl.push({yAxis:v, lineStyle:{color:'#fff', width:MIN, type:'solid'}}));
  monthStarts.forEach(v => gl.push({xAxis:v, lineStyle:{color:'#fff', width:MAJ, type:'solid'}}));
  monthMids.forEach(v => gl.push({xAxis:v, lineStyle:{color:'#fff', width:MIN, type:'solid'}}));
  series.push({type:'line', xAxisIndex:i, yAxisIndex:i, data:[], z:1, silent:true, animation:false,
    markLine:{symbol:['none','none'], silent:true, animation:false, label:{show:false},
      emphasis:{disabled:true}, data:gl}});
  series.push({type:'custom', xAxisIndex:i, yAxisIndex:i, z:2, silent:true, animation:false,
    data:[p.lo[0]],
    renderItem:(params, api) => {
      const pts = p.hi.map(d => api.coord(d)).concat(p.lo.slice().reverse().map(d => api.coord(d)));
      return {type:'polygon', shape:{points:pts}, style:{fill:'#A9A9A9'}};
    }});
  series.push({type:'line', xAxisIndex:i, yAxisIndex:i, data:[], z:3, silent:true, animation:false,
    markLine:{symbol:['none','none'], silent:true, animation:false, label:{show:false},
      emphasis:{disabled:true},
      data:seasonLines.map(v => ({xAxis:v, lineStyle:{color:'#000', width:1.4, type:'solid'}}))}});
  series.push({type:'line', xAxisIndex:i, yAxisIndex:i, data:p.blue, z:4, symbol:'none', silent:true,
    animation:false, lineStyle:{color:'#0000FF', width:2.5}, itemStyle:{color:'#0000FF'}});
  series.push({type:'line', xAxisIndex:i, yAxisIndex:i, data:p.red, z:5, symbol:'none', silent:true,
    animation:false, connectNulls:false, lineStyle:{color:'#8B0000', width:2.6}, itemStyle:{color:'#8B0000'}});
  graphics.push({type:'text', x:L.left + 1.2, y:L.top - 34.2, silent:true,
    style:{text:panelNames[i], fill:'#000', font:'23.5px ' + FONT, textVerticalAlign:'top', textAlign:'left'}});
});
graphics.push({type:'text', x:21.5, y:519, rotation:Math.PI/2, silent:true,
  style:{text:'Elevation (m asl)', fill:'#000', font:'23px ' + FONT, textAlign:'center', textVerticalAlign:'middle'}});

const chart = echarts.init(document.getElementById('c'), null, {renderer:'canvas'});
chart.setOption({animation:false, backgroundColor:'#fff', grid:grids, xAxis:xAxes, yAxis:yAxes,
  series:series, graphic:graphics, tooltip:{show:false}});

// braces (annotation) positioned through the x-axis scale
const bStyle = {stroke:'#000', lineWidth:1.7, fill:null};
braces.forEach(b => {
  const x0 = chart.convertToPixel({xAxisIndex:b.panel}, b.from);
  const x1 = chart.convertToPixel({xAxisIndex:b.panel}, b.to);
  const xc = chart.convertToPixel({xAxisIndex:b.panel}, b.tip);
  const r = 5, r2 = 8;
  const seg = (s) => graphics.push(Object.assign({silent:true, style:bStyle}, s));
  seg({type:'line', shape:{x1:x0, y1:b.yb, x2:x0, y2:b.yh + r}});
  seg({type:'bezierCurve', shape:{x1:x0, y1:b.yh + r, cpx1:x0, cpy1:b.yh, x2:x0 + r, y2:b.yh}});
  seg({type:'line', shape:{x1:x0 + r, y1:b.yh, x2:xc - r2, y2:b.yh}});
  seg({type:'bezierCurve', shape:{x1:xc - r2, y1:b.yh, cpx1:xc, cpy1:b.yh, x2:xc, y2:b.yt}});
  seg({type:'bezierCurve', shape:{x1:xc, y1:b.yt, cpx1:xc, cpy1:b.yh, x2:xc + r2, y2:b.yh}});
  seg({type:'line', shape:{x1:xc + r2, y1:b.yh, x2:x1 - r, y2:b.yh}});
  seg({type:'bezierCurve', shape:{x1:x1 - r, y1:b.yh, cpx1:x1, cpy1:b.yh, x2:x1, y2:b.yh + r}});
  seg({type:'line', shape:{x1:x1, y1:b.yh + r, x2:x1, y2:b.yb}});
});
chart.setOption({graphic:graphics});
</script></body></html>
